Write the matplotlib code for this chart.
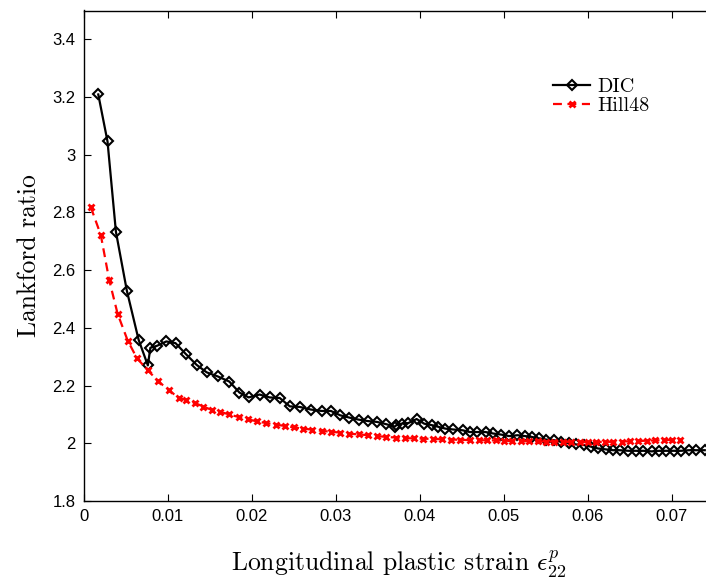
import matplotlib
matplotlib.use("Agg")
import matplotlib.pyplot as plt

# DIC measurements (strain, Lankford ratio)
dic_x = [0.0017, 0.0028, 0.0038, 0.0051, 0.0065, 0.0076, 0.0079, 0.0087, 0.0098, 0.0109,
         0.0121, 0.0134, 0.0146, 0.0159, 0.0173, 0.0185, 0.0196, 0.0209, 0.0221, 0.0233,
         0.0245, 0.0257, 0.0270, 0.0283, 0.0294, 0.0305, 0.0316, 0.0327, 0.0338, 0.0349,
         0.0360, 0.0370, 0.0372, 0.0378, 0.0386, 0.0396, 0.0405, 0.0414, 0.0422, 0.0430,
         0.0439, 0.0451, 0.0459, 0.0468, 0.0478, 0.0487, 0.0497, 0.0506, 0.0516, 0.0525,
         0.0533, 0.0542, 0.0550, 0.0559, 0.0568, 0.0577, 0.0586, 0.0595, 0.0604, 0.0612,
         0.0621, 0.0630, 0.0638, 0.0648, 0.0657, 0.0666, 0.0676, 0.0685, 0.0693, 0.0702,
         0.0711, 0.0720, 0.0729, 0.0739]
dic_y = [3.209, 3.046, 2.733, 2.529, 2.359, 2.270, 2.331, 2.338, 2.353, 2.347,
         2.310, 2.272, 2.246, 2.232, 2.214, 2.176, 2.159, 2.169, 2.159, 2.157,
         2.128, 2.126, 2.117, 2.112, 2.112, 2.097, 2.089, 2.082, 2.077, 2.074,
         2.066, 2.058, 2.063, 2.068, 2.070, 2.084, 2.068, 2.063, 2.057, 2.051,
         2.048, 2.045, 2.039, 2.039, 2.039, 2.034, 2.030, 2.025, 2.028, 2.025,
         2.022, 2.017, 2.013, 2.011, 2.005, 2.001, 1.996, 1.994, 1.988, 1.982,
         1.979, 1.976, 1.976, 1.974, 1.974, 1.974, 1.972, 1.974, 1.974, 1.974,
         1.974, 1.976, 1.976, 1.976]

# Hill48 prediction
hill_x = [0.0008, 0.0020, 0.0030, 0.0040, 0.0052, 0.0063, 0.0076, 0.0088, 0.0101, 0.0113,
          0.0121, 0.0132, 0.0142, 0.0152, 0.0162, 0.0173, 0.0184, 0.0195, 0.0206, 0.0217,
          0.0228, 0.0239, 0.0250, 0.0261, 0.0272, 0.0283, 0.0294, 0.0305, 0.0316, 0.0327,
          0.0338, 0.0349, 0.0360, 0.0371, 0.0382, 0.0393, 0.0404, 0.0415, 0.0426, 0.0437,
          0.0448, 0.0459, 0.0470, 0.0480, 0.0490, 0.0500, 0.0510, 0.0520, 0.0530, 0.0540,
          0.0550, 0.0560, 0.0570, 0.0580, 0.0590, 0.0600, 0.0610, 0.0620, 0.0630, 0.0640,
          0.0650, 0.0660, 0.0670, 0.0680, 0.0690, 0.0700, 0.0710]
hill_y = [2.819, 2.722, 2.566, 2.449, 2.356, 2.295, 2.253, 2.216, 2.184, 2.157,
          2.151, 2.140, 2.127, 2.116, 2.109, 2.100, 2.091, 2.083, 2.076, 2.070,
          2.065, 2.060, 2.055, 2.051, 2.047, 2.043, 2.040, 2.037, 2.033, 2.031,
          2.028, 2.025, 2.022, 2.020, 2.018, 2.017, 2.016, 2.015, 2.014, 2.013,
          2.012, 2.011, 2.011, 2.010, 2.010, 2.009, 2.008, 2.008, 2.007, 2.007,
          2.006, 2.006, 2.005, 2.005, 2.004, 2.004, 2.004, 2.005, 2.005, 2.006,
          2.007, 2.008, 2.009, 2.010, 2.011, 2.012, 2.012]

x_ticks = [0, 0.01, 0.02, 0.03, 0.04, 0.05, 0.06, 0.07]
x_tick_labels = ["0", "0.01", "0.02", "0.03", "0.04", "0.05", "0.06", "0.07"]
y_ticks = [1.8, 2.0, 2.2, 2.4, 2.6, 2.8, 3.0, 3.2, 3.4]
y_tick_labels = ["1.8", "2", "2.2", "2.4", "2.6", "2.8", "3", "3.2", "3.4"]

plt.rcParams['mathtext.fontset'] = 'cm'
plt.rcParams['axes.unicode_minus'] = False

W, H = 706, 579
fig = plt.figure(figsize=(W / 100, H / 100), dpi=100)
left, right, bottom, top = 84, 714, 501, 10.5
aw, ah = right - left, bottom - top
ax = fig.add_axes([left / W, 1 - bottom / H, aw / W, ah / H])

ax.plot(dic_x, dic_y, color='black', linestyle='-', linewidth=1.6,
        marker='D', markersize=5, markerfacecolor='none', markeredgecolor='black',
        markeredgewidth=1.5, label='DIC')
ax.plot(hill_x, hill_y, color='red', linestyle='--', linewidth=1.6, dashes=(4, 2.5),
        marker='x', markersize=5, markeredgewidth=2.0, markeredgecolor='red',
        label='Hill48')

ax.set_xlim(0, 0.075)
ax.set_ylim(1.8, 3.5)
ax.set_xticks(x_ticks)
ax.set_xticklabels(x_tick_labels)
ax.set_yticks(y_ticks)
ax.set_yticklabels(y_tick_labels)
ax.tick_params(direction='in', top=True, right=True, length=5, width=0.8,
               labelsize=12, pad=6)
for lab in ax.get_xticklabels() + ax.get_yticklabels():
    lab.set_family(['Liberation Sans', 'DejaVu Sans'])
for sp in ax.spines.values():
    sp.set_linewidth(1.0)

ax.set_xlabel(r'Longitudinal plastic strain $\epsilon_{22}^p$', family='cmr10',
              fontsize=18.5, va='baseline')
ax.xaxis.set_label_coords(0.5, (bottom - 571) / ah)
ax.set_ylabel('Lankford ratio', family='cmr10', fontsize=18.5, va='center')
ax.yaxis.set_label_coords((29 - left) / aw, 0.5)

leg = ax.legend(loc='upper left', bbox_to_anchor=((553 - left) / aw, (bottom - 78) / ah),
                frameon=False, prop={'family': 'cmr10', 'size': 14.5},
                handlelength=1.85, handletextpad=0.35, labelspacing=0.05,
                borderaxespad=0, borderpad=0)
fig.savefig('out.png', dpi=100)
